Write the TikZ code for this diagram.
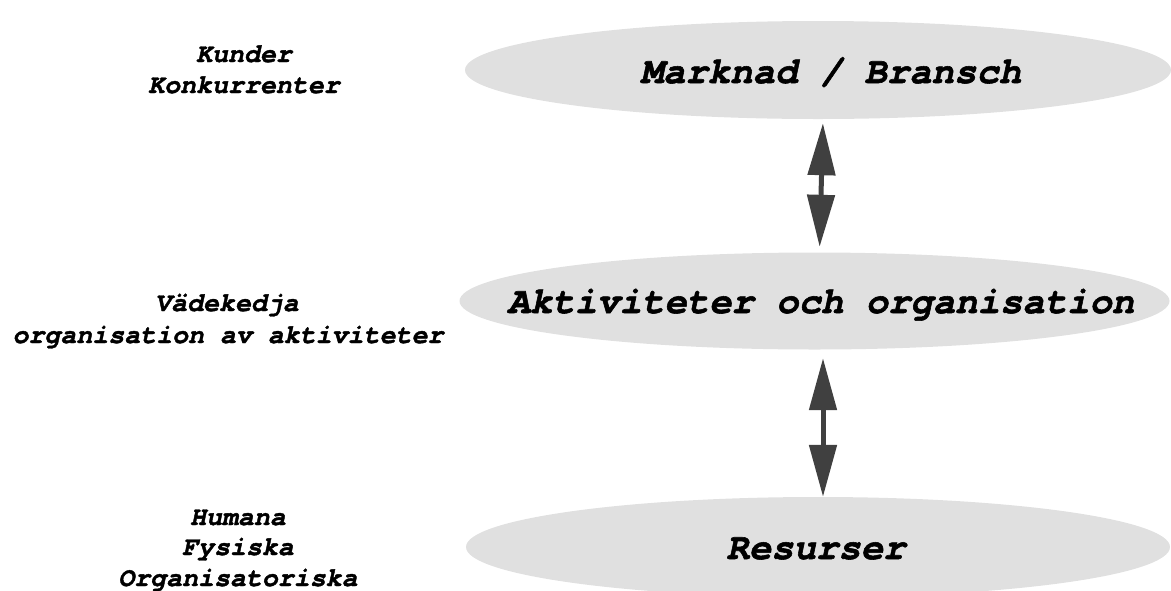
\documentclass[tikz,border=0pt]{standalone}
\usepackage{fontspec}
\setmonofont{TeX Gyre Cursor}[BoldItalicFeatures={FakeBold=1.5}]
\usetikzlibrary{shapes.geometric,arrows.meta}
\definecolor{ovalgray}{HTML}{E0E0E0}
\definecolor{arrowgray}{HTML}{404040}
\tikzset{
  oval/.style={ellipse, fill=ovalgray, draw=none, inner sep=0pt,
    minimum width=706pt, minimum height=98pt},
  maintext/.style={anchor=base, inner sep=0pt,
    font=\fontsize{37.3}{40}\selectfont\ttfamily\bfseries\itshape},
  sidetext/.style={anchor=base, inner sep=0pt,
    font=\fontsize{26.6}{30}\selectfont\ttfamily\bfseries\itshape},
  link/.style={draw=arrowgray, line width=5pt,
    {Triangle[length=52pt,width=27pt]}-{Triangle[length=52pt,width=27pt]},
    arrowgray},
}
\begin{document}
\begin{tikzpicture}[x=1pt,y=-1pt]
\useasboundingbox (0,0) rectangle (1171,590);

% the three levels
\node[oval] (market) at (818,70) {};
\node[oval, minimum width=710pt, minimum height=97pt] (activity) at (814.5,301) {};
\node[oval, minimum width=704pt, minimum height=100pt] (resource) at (818,547) {};

\node[maintext] (marketlabel)   at (831,83)  {Marknad / Bransch};
\node[maintext] (activitylabel) at (821,313) {Aktiviteter och organisation};
\node[maintext] (resourcelabel) at (816,559) {Resurser};

% links between the levels
\draw[link, shorten <=4pt, shorten >=5.5pt]
  ([xshift=5pt]market.south) -- ([xshift=5pt]activity.north);
\draw[link, shorten <=8.5pt]
  ([xshift=8.5pt]activity.south) -- ([xshift=5pt]resource.north);

% notes on the left
\node[sidetext] (kunder)       at (244,62)  {Kunder};
\node[sidetext] (konkurrenter) at (244,93)  {Konkurrenter};
\node[sidetext] (kedja)        at (227,311) {Vädekedja};
\node[sidetext] (orgakt)       at (228,343) {organisation av aktiviteter};
\node[sidetext] (humana)       at (238,525) {Humana};
\node[sidetext] (fysiska)      at (238,555) {Fysiska};
\node[sidetext] (orgres)       at (238,586) {Organisatoriska};
\end{tikzpicture}
\end{document}
